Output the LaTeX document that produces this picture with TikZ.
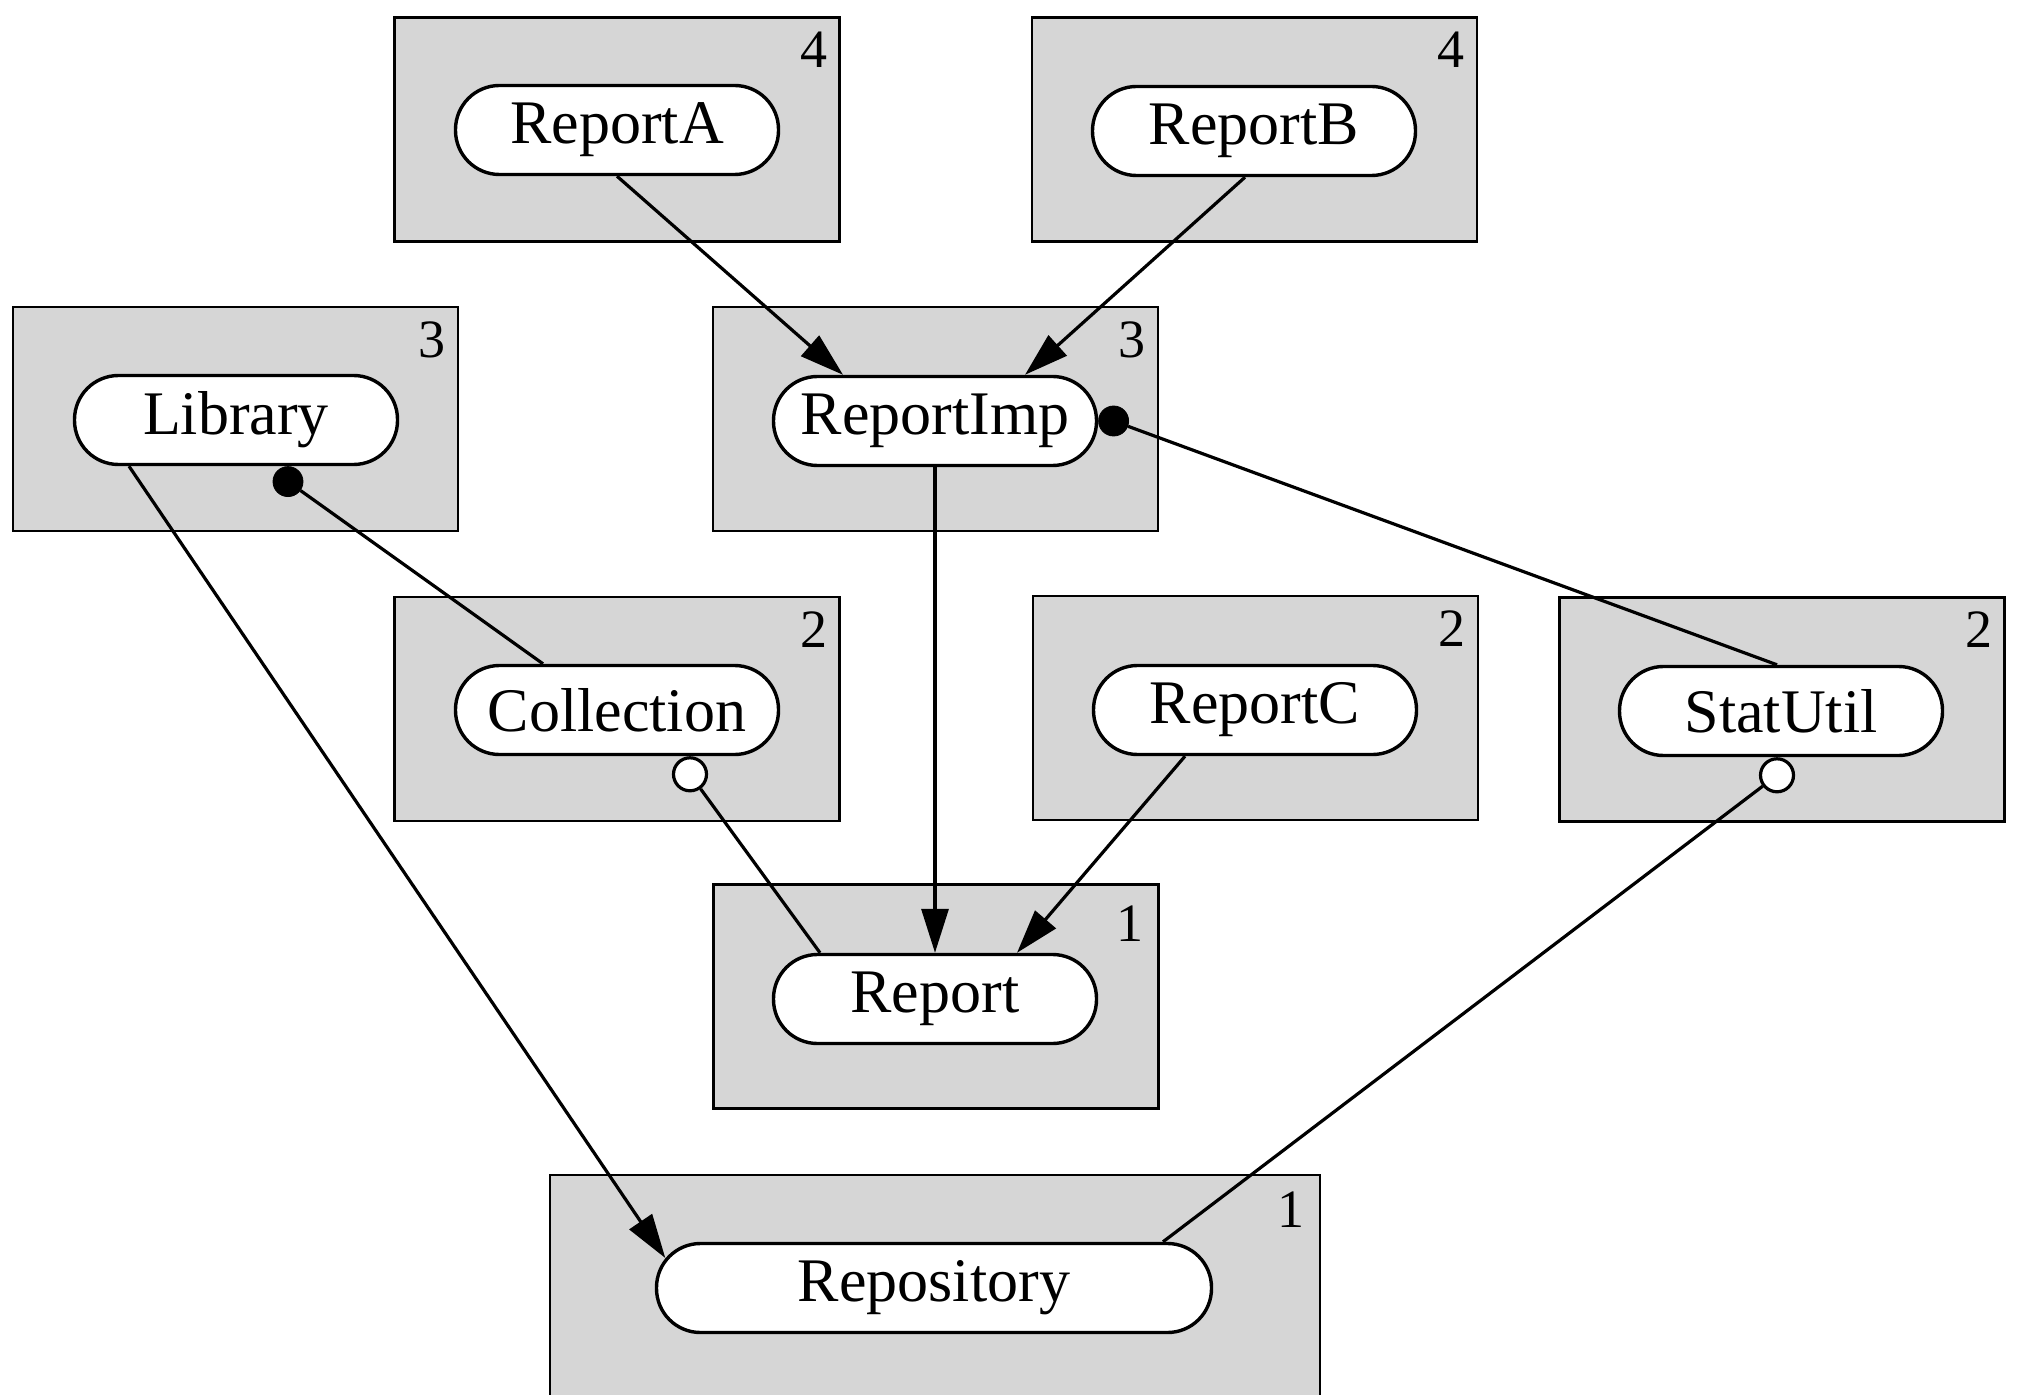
\documentclass[tikz,border=0pt]{standalone}
\usepackage{fontspec}
\setmainfont{Liberation Serif}
\usetikzlibrary{arrows.meta,calc}
\definecolor{boxgray}{gray}{0.84}
\begin{document}
\begin{tikzpicture}[x=0.5pt,y=-0.5pt,
  pkgbox/.style={draw=black, line width=1.1pt, fill=boxgray, minimum width=222.5pt, minimum height=112pt, inner sep=0pt},
  pill/.style={draw, line width=1.7pt, fill=white, rounded corners=22pt, minimum width=161.5pt, minimum height=44.5pt, inner sep=0pt, font=\fontsize{31}{32}\selectfont},
  lvl/.style={anchor=north east, inner sep=0pt, font=\fontsize{27}{28}\selectfont},
  conn/.style={line width=1.6pt},
  arr/.style={conn, -{Triangle[length=22pt,width=13.5pt]}},
  fdot/.style={circle, fill=black, draw=black, minimum size=15pt, inner sep=0pt},
  odot/.style={circle, fill=white, draw=black, line width=1.6pt, minimum size=16.5pt, inner sep=0pt}]

\useasboundingbox (0,0) rectangle (2017,1395);

% package boxes
\node[pkgbox] (bA) at (617,129.5) {};
\node[pkgbox] (bB) at (1254.5,129.5) {};
\node[pkgbox] (bL) at (235.5,419) {};
\node[pkgbox] (bI) at (935.5,419) {};
\node[pkgbox] (bC) at (617,709) {};
\node[pkgbox] (bRC) at (1255.5,708) {};
\node[pkgbox] (bS) at (1782,709.5) {};
\node[pkgbox] (bR) at (936,996.5) {};
\node[pkgbox, minimum width=385pt, minimum height=125pt] (bP) at (935,1300) {};

% level numbers
\node[lvl] (nA) at ([xshift=-6.5pt,yshift=-7.5pt]bA.north east) {4};
\node[lvl] (nB) at ([xshift=-6.5pt,yshift=-7.5pt]bB.north east) {4};
\node[lvl] (nL) at ([xshift=-6.5pt,yshift=-7.5pt]bL.north east) {3};
\node[lvl] (nI) at ([xshift=-6.5pt,yshift=-7.5pt]bI.north east) {3};
\node[lvl] (nC) at ([xshift=-6.5pt,yshift=-7.5pt]bC.north east) {2};
\node[lvl] (nRC) at ([xshift=-6.5pt,yshift=-7.5pt]bRC.north east) {2};
\node[lvl] (nS) at ([xshift=-6.5pt,yshift=-7.5pt]bS.north east) {2};
\node[lvl] (nR) at ([xshift=-8pt,yshift=-11pt]bR.north east) {1};
\node[lvl] (nP) at ([xshift=-8pt,yshift=-9pt]bP.north east) {1};

% components
\node[pill] (ra) at (617,130) {ReportA};
\node[pill] (rb) at (1254,131) {ReportB};
\node[pill] (lib) at (236,420) {Library};
\node[pill] (ri) at (935,421) {ReportImp};
\node[pill] (col) at (617,710) {Collection};
\node[pill] (rc) at (1255,710) {ReportC};
\node[pill] (su) at (1781,711) {StatUtil};
\node[pill] (rep) at (935,999) {Report};
\node[pill, minimum width=277.5pt] (repo) at (934,1288) {Repository};

% connectors
\draw[arr] (ra.south) -- ([xshift=-46pt]ri.north);
\draw[arr] ([xshift=-4.5pt]rb.south) -- ([xshift=45pt]ri.north);
\draw[arr] (ri.south) -- (rep.north);
\draw[arr] ([xshift=-35pt]rc.south) -- ([xshift=41pt]rep.north);

\node[odot, anchor=north] (co) at ([xshift=36.5pt]col.south) {};
\draw[conn] (co) -- ([xshift=-57.5pt]rep.north);

\node[fdot, anchor=north] (ld) at ([xshift=26pt]lib.south) {};
\draw[conn] (ld) -- ([xshift=-37pt]col.north);

\node[fdot, anchor=west] (id) at (ri.east) {};
\draw[conn] (id) -- ([xshift=-2pt]su.north);

\node[odot, anchor=north] (so) at ([xshift=-2pt]su.south) {};
\draw[conn] (so) -- ([xshift=114.5pt]repo.north);

\draw[arr] ([xshift=-53.5pt]lib.south) -- ([xshift=5.25pt,yshift=15pt]repo.west);
\end{tikzpicture}
\end{document}
